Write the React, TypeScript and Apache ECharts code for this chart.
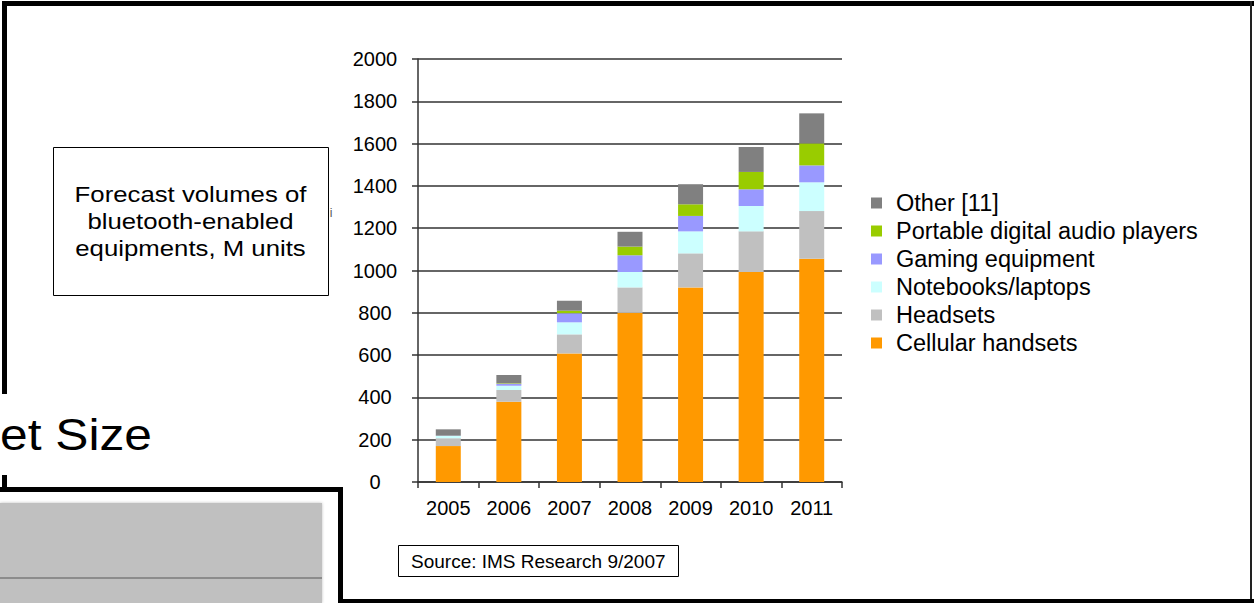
import React, { useEffect, useRef } from "react";
import * as echarts from "echarts";

const years = ["2005", "2006", "2007", "2008", "2009", "2010", "2011"];
const cellular = [170, 379, 608, 800, 920, 993, 1056];
const headsets = [37, 56, 90, 120, 161, 192, 225];
const notebooks = [11, 20, 57, 73, 104, 120, 136];
const gaming = [1, 10, 43, 79, 73, 79, 80];
const audio = [0, 2, 12, 41, 55, 82, 104];
const other = [30, 39, 47, 70, 95, 118, 142];

const seriesNames = [
  "Cellular handsets",
  "Headsets",
  "Notebooks/laptops",
  "Gaming equipment",
  "Portable digital audio players",
  "Other [11]",
];
const seriesColors = ["#ff9900", "#c0c0c0", "#ccffff", "#9999ff", "#99cc00", "#808080"];
const seriesData = [cellular, headsets, notebooks, gaming, audio, other];

const FONT = "'Liberation Sans', Arial, sans-serif";

export default function App() {
  const ref = useRef<HTMLDivElement>(null);
  useEffect(() => {
    if (!ref.current) return;
    const chart = echarts.init(ref.current, null, { renderer: "svg" });
    const option = {
      animation: false,
      backgroundColor: "#ffffff",
      textStyle: { fontFamily: FONT },
      grid: { left: 418, right: 412, top: 59, bottom: 121, containLabel: false },
      legend: {
        orient: "vertical",
        left: 871,
        top: 191,
        icon: "rect",
        itemWidth: 11,
        itemHeight: 11,
        itemGap: 4,
        padding: 0,
        selectedMode: false,
        data: [...seriesNames].reverse(),
        textStyle: {
          fontFamily: FONT,
          fontSize: 23.5,
          color: "#000",
          lineHeight: 22,
          padding: [0, 0, 0, 9],
        },
      },
      xAxis: {
        type: "category",
        data: years,
        axisLine: { lineStyle: { color: "#333", width: 1.5 } },
        axisTick: { show: true, length: 6, interval: 0, lineStyle: { color: "#333", width: 1.5 } },
        axisLabel: { fontFamily: FONT, fontSize: 20, color: "#000", margin: 16, interval: 0 },
      },
      yAxis: {
        type: "value",
        min: 0,
        max: 2000,
        interval: 200,
        axisLine: { show: true, lineStyle: { color: "#333", width: 1.5 } },
        axisTick: { show: true, length: 6, lineStyle: { color: "#333", width: 1.5 } },
        axisLabel: {
          fontFamily: FONT,
          fontSize: 20,
          color: "#000",
          margin: 43,
          align: "center",
          formatter: (v: number) => String(v),
        },
        splitLine: { show: true, lineStyle: { color: "#333", width: 1.5 } },
      },
      series: seriesNames.map((name, i) => ({
        name,
        type: "bar",
        stack: "total",
        barWidth: 25,
        data: seriesData[i],
        itemStyle: { color: seriesColors[i] },
      })),
      graphic: [
        // outer frame
        { type: "rect", shape: { x: 2, y: 1, width: 1260, height: 5 }, style: { fill: "#000" }, z: 100 },
        { type: "rect", shape: { x: 2, y: 1, width: 5, height: 393 }, style: { fill: "#000" }, z: 100 },
        { type: "rect", shape: { x: 2, y: 475, width: 5, height: 14 }, style: { fill: "#000" }, z: 100 },
        { type: "rect", shape: { x: 1250, y: 1, width: 2, height: 602 }, style: { fill: "#222" }, z: 100 },
        { type: "rect", shape: { x: 338, y: 599, width: 920, height: 5 }, style: { fill: "#000" }, z: 100 },
        // lower-left box
        { type: "rect", shape: { x: 0, y: 487, width: 343, height: 5 }, style: { fill: "#000" }, z: 100 },
        { type: "rect", shape: { x: 338, y: 487, width: 5, height: 116 }, style: { fill: "#000" }, z: 100 },
        { type: "rect", shape: { x: 0, y: 503, width: 322, height: 100 }, style: { fill: "#c0c0c0", shadowBlur: 3, shadowColor: "rgba(0,0,0,0.25)" }, z: 100 },
        { type: "rect", shape: { x: 0, y: 577, width: 322, height: 2 }, style: { fill: "#8c8c8c" }, z: 101 },
        // heading fragment
        {
          type: "text",
          x: 0,
          y: 435,
          scaleX: 1.13,
          style: { text: "et Size", fontFamily: FONT, fontSize: 44, fill: "#000", verticalAlign: "middle", align: "left" },
          z: 100,
        },
        // small stray glyph
        {
          type: "text",
          x: 331,
          y: 213,
          style: { text: "i", fontFamily: FONT, fontSize: 12, fill: "#555", verticalAlign: "middle", align: "center" },
          z: 100,
        },
        // forecast text box
        { type: "rect", shape: { x: 53.5, y: 147.5, width: 275, height: 148 }, style: { fill: "#fff", stroke: "#000", lineWidth: 1 }, z: 100 },
        {
          type: "text",
          x: 190.5,
          y: 221,
          scaleX: 1.12,
          style: {
            text: "Forecast volumes of\nbluetooth-enabled\nequipments, M units",
            fontFamily: FONT,
            fontSize: 23,
            lineHeight: 27.5,
            fill: "#000",
            align: "center",
            verticalAlign: "middle",
          },
          z: 101,
        },
        // source box
        { type: "rect", shape: { x: 398.5, y: 545.5, width: 280, height: 31 }, style: { fill: "#fff", stroke: "#000", lineWidth: 1 }, z: 100 },
        {
          type: "text",
          x: 411,
          y: 561,
          style: { text: "Source: IMS Research 9/2007", fontFamily: FONT, fontSize: 19, fill: "#000", align: "left", verticalAlign: "middle" },
          z: 101,
        },
      ],
    };
    chart.setOption(option as any);
    return () => chart.dispose();
  }, []);
  return (
    <div
      ref={ref}
      style={{ position: "absolute", left: 0, top: 0, width: 1254, height: 603, overflow: "hidden" }}
    />
  );
}
